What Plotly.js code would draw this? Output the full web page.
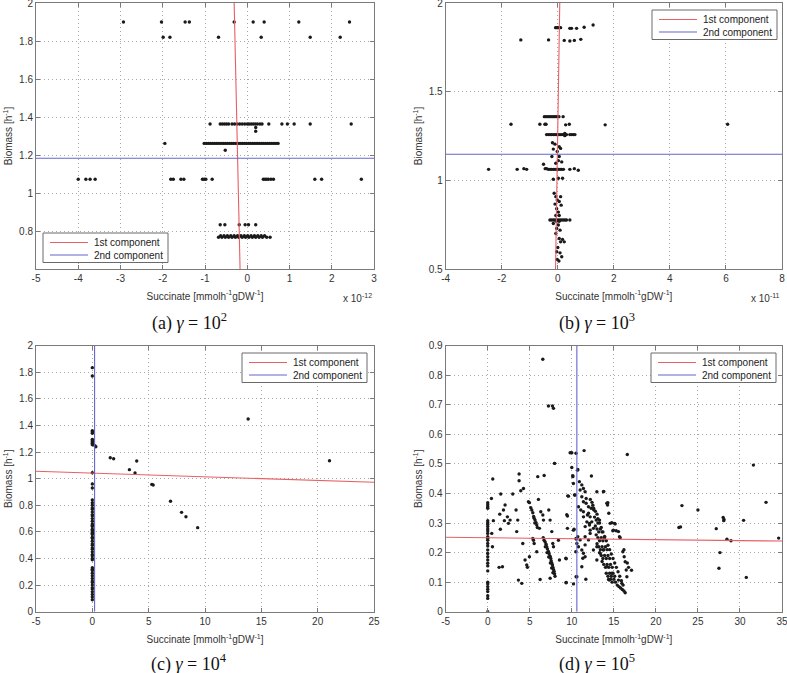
<!DOCTYPE html>
<html>
<head>
<meta charset="utf-8">
<script src="https://cdn.plot.ly/plotly-3.0.1.min.js"></script>
<style>html,body{margin:0;padding:0;background:#fff;}#chart{width:787px;height:673px;}</style>
</head>
<body>
<div id="chart"></div>
<script>
// ---------- DATA ----------
// (a) gamma = 10^2, x in units of 1e-12
const pointsA = [
  [-2.93,1.9],[-2.03,1.9],[-1.47,1.9],[-1.37,1.9],[-0.31,1.9],[0.14,1.9],[0.40,1.9],[1.22,1.9],[2.42,1.9],
  [-1.99,1.82],[-1.83,1.82],[-0.68,1.82],[0.33,1.82],[1.49,1.82],[2.20,1.82],
  [-0.88,1.363],[-0.64,1.363],[-0.59,1.363],[-0.54,1.363],[-0.49,1.363],[-0.44,1.363],[-0.36,1.363],[-0.30,1.363],[-0.24,1.363],[-0.18,1.363],[-0.12,1.363],[-0.06,1.363],[0.0,1.363],[0.04,1.363],[0.09,1.363],[0.14,1.363],[0.19,1.363],[0.24,1.363],[0.30,1.363],[0.35,1.363],[0.51,1.363],[0.82,1.363],[0.95,1.363],[1.11,1.363],[1.49,1.363],[2.46,1.363],
  [0.2,1.345],[0.2,1.325],[-0.52,1.225],[-1.95,1.261],
  [-1.02,1.261],[-0.97,1.261],[-0.92,1.261],[-0.87,1.261],[-0.82,1.261],[-0.77,1.261],[-0.72,1.261],[-0.67,1.261],[-0.62,1.261],[-0.57,1.261],[-0.52,1.261],[-0.47,1.261],[-0.42,1.261],[-0.37,1.261],[-0.32,1.261],[-0.27,1.261],[-0.22,1.261],[-0.17,1.261],[-0.12,1.261],[-0.07,1.261],[-0.02,1.261],[0.03,1.261],[0.08,1.261],[0.13,1.261],[0.18,1.261],[0.23,1.261],[0.28,1.261],[0.33,1.261],[0.38,1.261],[0.43,1.261],[0.48,1.261],[0.53,1.261],[0.58,1.261],[0.63,1.261],[0.68,1.261],[0.73,1.261],
  [-4.0,1.072],[-3.82,1.072],[-3.72,1.072],[-3.6,1.072],[-1.81,1.072],[-1.75,1.072],[-1.57,1.072],[-1.5,1.072],[-1.06,1.072],[-1.02,1.072],[-0.98,1.072],[-0.83,1.072],[0.38,1.072],[0.42,1.072],[0.46,1.072],[0.50,1.072],[0.56,1.072],[0.62,1.072],[1.6,1.072],[1.76,1.072],[2.70,1.072],
  [-0.64,0.833],[-0.53,0.833],[-0.19,0.833],[-0.05,0.833],[0.03,0.833],[0.2,0.833],
  [-0.68,0.767],[-0.63,0.775],[-0.6,0.767],[-0.55,0.775],[-0.52,0.767],[-0.47,0.775],[-0.44,0.767],[-0.39,0.775],[-0.36,0.767],[-0.31,0.775],[-0.28,0.767],[-0.23,0.775],[-0.2,0.767],[-0.15,0.775],[-0.12,0.767],[-0.07,0.775],[-0.04,0.767],[0.01,0.775],[0.04,0.767],[0.09,0.775],[0.12,0.767],[0.17,0.775],[0.2,0.767],[0.25,0.775],[0.28,0.767],[0.33,0.775],[0.36,0.767],[0.41,0.775],[0.46,0.767],[0.54,0.767]
];
const pc1AX = [-0.31, -0.17], pc1AY = [2, 0.6];
const pc2AX = [-5, 3], pc2AY = [1.183, 1.183];

// (b) gamma = 10^3, x in units of 1e-11
const pointsB = [
  [-0.08,1.861],[-0.04,1.861],[0.0,1.861],[0.05,1.861],[0.1,1.861],[0.43,1.857],[0.49,1.857],[0.67,1.857],[0.94,1.863],[1.26,1.876],
  [-1.32,1.792],[-0.33,1.792],[0.23,1.789],[0.43,1.786],[0.59,1.789],[0.82,1.795],
  [-0.48,1.359],[-0.42,1.359],[-0.36,1.359],[-0.3,1.359],[-0.24,1.359],[-0.18,1.359],[-0.12,1.359],[-0.06,1.359],[0.0,1.359],[0.04,1.359],[0.19,1.359],
  [-1.67,1.316],[-0.64,1.316],[-0.46,1.316],[-0.42,1.316],[0.28,1.313],[0.41,1.316],[1.69,1.313],[6.06,1.316],
  [-0.4,1.258],[-0.34,1.258],[-0.28,1.258],[-0.22,1.258],[-0.16,1.258],[-0.1,1.258],[-0.04,1.258],[0.02,1.258],[0.08,1.258],[0.14,1.258],[0.2,1.258],[0.25,1.258],[0.31,1.258],[0.25,1.252],[0.25,1.265],[0.43,1.258],[0.49,1.258],[0.55,1.258],[0.61,1.258],
  [-0.19,1.212],[-0.1,1.204],[0.05,1.189],[0.1,1.18],[-0.16,1.176],[-0.02,1.163],[-0.21,1.134],[0.05,1.134],[0.02,1.111],[0.14,1.104],[-0.07,1.096],[-0.51,1.091],
  [-2.47,1.062],[-1.45,1.062],[-1.21,1.066],[-1.11,1.062],[-0.45,1.066],[-0.4,1.066],[-0.34,1.062],[-0.28,1.062],[-0.22,1.062],[-0.16,1.062],[-0.1,1.062],[-0.04,1.062],[0.02,1.062],[0.08,1.062],[0.14,1.062],[0.2,1.062],[0.43,1.062],[0.59,1.066],[0.73,1.057],
  [-0.16,1.006],[0.02,1.012],[0.17,1.012],
  [-0.13,0.927],[-0.07,0.908],[0.1,0.908],[-0.02,0.889],[0.05,0.881],[-0.1,0.866],[0.12,0.86],[-0.04,0.84],[0.02,0.821],[-0.07,0.802],[0.05,0.802],
  [-0.28,0.776],[-0.22,0.776],[-0.16,0.776],[-0.1,0.776],[-0.04,0.776],[0.02,0.776],[0.08,0.776],[0.14,0.776],[0.2,0.776],[0.26,0.776],[0.31,0.776],[0.43,0.776],[-0.05,0.769],[0.05,0.769],
  [-0.16,0.757],[0.02,0.748],[-0.04,0.729],[0.08,0.719],[-0.07,0.7],[0.05,0.672],[0.17,0.667],[0.1,0.653],[0.23,0.653],[0.0,0.621],[-0.04,0.597],[0.08,0.591],[0.14,0.569],[-0.02,0.554],[0.04,0.545]
];
const pc1BX = [0.07, -0.08], pc1BY = [2, 0.5];
const pc2BX = [-4, 8], pc2BY = [1.147, 1.147];

// (c) gamma = 10^4
const pointsC = [
  [0.0,1.835],[0.0,1.772],
  [0.0,1.361],[0.0,1.351],[0.0,1.341],[0.0,1.296],[0.0,1.286],[0.0,1.276],[0.0,1.266],[0.0,1.256],[0.31,1.24],[0.23,1.248],
  [0.0,1.045],[0.0,0.96],[0.0,0.93],
  [0.0,0.84],[0.0,0.82],[0.0,0.80],[0.0,0.78],[0.0,0.77],[0.0,0.75],[0.0,0.73],[0.0,0.72],[0.0,0.70],[0.0,0.68],[0.0,0.66],[0.0,0.65],[0.0,0.64],[0.0,0.62],[0.0,0.61],[0.0,0.60],[0.0,0.59],[0.0,0.58],[0.0,0.56],[0.0,0.55],[0.0,0.53],[0.0,0.51],[0.0,0.50],[0.0,0.48],[0.0,0.47],[0.0,0.45],[0.0,0.43],[0.0,0.42],[0.0,0.40],[0.0,0.39],[0.0,0.33],[0.0,0.32],[0.0,0.31],[0.0,0.29],[0.0,0.27],[0.0,0.25],[0.0,0.23],[0.0,0.22],[0.0,0.20],[0.0,0.18],[0.0,0.17],[0.0,0.15],[0.0,0.13],[0.0,0.11],[0.0,0.09],
  [1.59,1.158],[1.89,1.15],[3.29,1.068],[3.79,1.043],[3.94,1.133],[5.28,0.957],[5.4,0.953],[6.94,0.83],[7.92,0.747],[8.31,0.714],[9.35,0.632],[13.83,1.449],[21.05,1.135]
];
const pc1CX = [-5, 25], pc1CY = [1.056, 0.973];
const pc2CX = [0.2, 0.2], pc2CY = [0, 2];

// (d) gamma = 10^5
const pointsD = [
  [0,0.369],[0,0.362],[0,0.355],[0,0.35],[0,0.308],[0,0.301],[0,0.295],[0,0.288],[0,0.28],[0,0.273],[0,0.265],[0,0.254],[0,0.248],[0,0.242],[0,0.231],[0,0.222],[0,0.209],[0,0.197],[0,0.186],[0,0.175],[0,0.164],[0,0.155],[0,0.138],[0,0.1],[0,0.094],[0,0.085],[0,0.076],[0,0.068],[0,0.054],[0,0.045],[0,0.0],
  [0.44,0.383],[0.6,0.449],[0.67,0.308],[0.56,0.22],[0.48,0.265],[1.55,0.398],[1.43,0.33],[1.5,0.279],[1.35,0.15],[1.75,0.152],[1.87,0.344],[2.06,0.361],[2.34,0.321],[2.46,0.299],[1.98,0.308],[2.66,0.31],[2.98,0.398],[3.37,0.344],[3.45,0.271],[3.57,0.31],[3.65,0.107],[3.73,0.443],[3.73,0.466],[3.93,0.409],[4.05,0.096],[4.25,0.417],[4.17,0.231],[4.44,0.175],[4.64,0.158],[4.72,0.15],[4.96,0.186],
  [4.84,0.372],[4.96,0.369],[5.12,0.352],[5.24,0.344],[5.36,0.335],[5.52,0.316],[5.63,0.31],[5.75,0.301],[5.83,0.293],[5.46,0.322],[5.6,0.3],[5.9,0.285],[5.36,0.248],[5.44,0.242],[5.52,0.231],[5.83,0.203],[5.95,0.457],[6.03,0.38],[6.15,0.282],[6.23,0.109],[6.31,0.338],[6.55,0.327],[6.63,0.31],[6.55,0.854],[6.71,0.461],
  [6.6,0.25],[6.7,0.242],[6.83,0.236],[6.94,0.228],[7.02,0.22],[7.1,0.212],[7.22,0.204],[7.3,0.196],[7.42,0.188],[7.5,0.18],[7.55,0.172],[7.62,0.165],[7.7,0.158],[7.75,0.15],[7.82,0.143],[7.9,0.136],[7.95,0.128],[8.0,0.12],[6.85,0.22],[7.05,0.2],[7.25,0.185],[7.45,0.165],[7.6,0.148],[7.75,0.132],
  [7.22,0.696],[7.7,0.696],[7.82,0.688],[7.42,0.113],[7.26,0.344],[7.42,0.31],[7.62,0.271],[7.74,0.231],[7.94,0.502],[7.82,0.22],[8.41,0.242],[8.53,0.175],[9.33,0.179],[9.33,0.099],[9.4,0.328],[9.52,0.392],
  [9.8,0.538],[10.0,0.538],[10.5,0.536],[11.46,0.545],[16.6,0.532],[10.0,0.488],[10.12,0.46],[10.2,0.094],[10.32,0.395],[10.2,0.276],[10.48,0.203],[10.6,0.118],[10.71,0.481],[10.52,0.246],[10.71,0.254],
  [9.48,0.324],[9.48,0.282],[9.29,0.181],[9.32,0.098],[10.27,0.279],[10.51,0.248],[10.6,0.231],[10.79,0.22],[10.99,0.243],[11.19,0.209],[11.38,0.198],[11.58,0.226],[11.31,0.181],[11.58,0.186],[11.19,0.152],[11.67,0.11],[10.51,0.118],[10.67,0.479],[10.12,0.457],[10.19,0.434],[9.6,0.391],[10.39,0.395],[12.33,0.459],[12.98,0.406],[13.76,0.406],[14.29,0.369],[14.4,0.333],[14.76,0.301],[14.95,0.276],[15.15,0.297],[15.55,0.271],[15.75,0.25],
  [10.9,0.44],[11.19,0.429],[11.38,0.417],[11.58,0.406],[10.99,0.412],[11.19,0.389],[11.38,0.372],[10.79,0.355],[11.07,0.344],[11.38,0.338],[11.7,0.367],[11.98,0.355],[11.86,0.327],[12.18,0.321],[11.79,0.304],[12.1,0.293],[12.38,0.304],[12.57,0.282],[12.18,0.265],[11.58,0.254],[11.98,0.243],[11.39,0.321],[11.59,0.288],[11.71,0.383],[11.99,0.333],[12.1,0.299],[12.18,0.276],
  [12.2,0.38],[12.4,0.37],[12.5,0.36],[12.3,0.35],[12.6,0.345],
  [12.6,0.35],[12.8,0.34],[13.0,0.33],[12.7,0.32],[12.9,0.31],[13.1,0.3],[13.3,0.31],[12.8,0.29],[13.0,0.28],[13.2,0.27],[13.4,0.28],[13.6,0.27],[12.9,0.26],[13.1,0.25],[13.3,0.24],[13.5,0.25],[13.7,0.24],[13.9,0.25],[13.0,0.23],[13.2,0.22],[13.4,0.21],[13.6,0.22],[13.8,0.21],[14.0,0.22],[14.2,0.21],[13.3,0.2],[13.5,0.19],[13.7,0.18],[13.9,0.19],[14.1,0.18],[14.3,0.19],[14.5,0.18],[13.6,0.17],[13.8,0.16],[14.0,0.15],[14.2,0.16],[14.4,0.15],[14.6,0.16],[14.8,0.15],[14.1,0.13],[14.3,0.12],[14.5,0.13],[14.7,0.12],[14.9,0.13],[15.1,0.12],[14.6,0.11],[14.8,0.1],[15.0,0.11],[15.2,0.1],[15.4,0.09],[15.6,0.085],[15.8,0.08],[16.0,0.075],[16.2,0.07],[16.35,0.064],
  [13.1,0.315],[13.3,0.3],[13.5,0.285],[13.7,0.27],[13.9,0.255],[14.1,0.24],[14.3,0.225],[14.5,0.21],[14.7,0.195],[14.9,0.18],[15.1,0.165],[15.3,0.15],[15.5,0.135],[15.7,0.12],[15.9,0.105],[16.1,0.09],
  [12.98,0.175],[14.17,0.152],[14.76,0.13],[14.48,0.107],[15.55,0.107],[15.95,0.096],[12.57,0.209],[12.98,0.22],[13.37,0.198],[13.76,0.209],[13.8,0.407],[14.17,0.367],[14.25,0.361],[14.37,0.109],[14.56,0.299],[14.88,0.274],[15.08,0.299],[15.28,0.274],[15.67,0.254],
  [16.07,0.203],[16.23,0.186],[16.35,0.169],[16.47,0.141],[16.55,0.118],[16.2,0.21],[16.6,0.165],[16.75,0.15],[17.1,0.14],[7.97,0.502],
  [22.74,0.285],[22.93,0.287],[23.1,0.359],[25.0,0.344],[27.18,0.281],[27.5,0.147],[27.62,0.2],[28.0,0.319],[28.1,0.312],[28.07,0.308],[28.45,0.245],[28.93,0.24],[30.43,0.309],[30.75,0.116],[31.6,0.496],[33.1,0.37],[34.6,0.249]
];
const pc1DX = [-5, 35], pc1DY = [0.252, 0.239];
const pc2DX = [10.6, 10.6], pc2DY = [0, 0.9];

// tick labels
const xTicksA = [-5,-4,-3,-2,-1,0,1,2,3];
const xTicksB = [-4,-2,0,2,4,6,8];
const xTicksC = [-5,0,5,10,15,20,25];
const xTicksD = [-5,0,5,10,15,20,25,30,35];
const yTicksA = [0.8,1,1.2,1.4,1.6,1.8,2];
const yTicksB = [0.5,1,1.5,2];
const yTicksC = [0,0.2,0.4,0.6,0.8,1,1.2,1.4,1.6,1.8,2];
const yTicksD = [0,0.1,0.2,0.3,0.4,0.5,0.6,0.7,0.8,0.9];
const captions = ['(a) <i>γ</i> = 10<sup>2</sup>','(b) <i>γ</i> = 10<sup>3</sup>','(c) <i>γ</i> = 10<sup>4</sup>','(d) <i>γ</i> = 10<sup>5</sup>'];
const seriesNames = ['1st component','2nd component'];
const xTitle = 'Succinate [mmolh<sup>-1</sup>gDW<sup>-1</sup>]';
const yTitle = 'Biomass [h<sup>-1</sup>]';

// ---------- BUILD ----------
const W = 787, H = 673;
const FONT = 'Liberation Sans, Arial, sans-serif';
const RED = 'rgb(232,95,100)', BLUE = 'rgb(100,100,205)';
const COLORS = [RED, BLUE];

function scatterTrace(pts, xa, ya) {
  return {type:'scatter', mode:'markers', x: pts.map(p=>p[0]), y: pts.map(p=>p[1]),
    xaxis: xa, yaxis: ya, showlegend:false, hoverinfo:'skip',
    marker:{size:3.4, color:'#1a1a1a'}};
}
function lineTrace(x, y, xa, ya, color, name) {
  return {type:'scatter', mode:'lines', x:x, y:y, xaxis:xa, yaxis:ya, name:name, showlegend:false,
    line:{color:color, width:1.1}, hoverinfo:'skip'};
}
const traces = [
  scatterTrace(pointsA,'x','y'),
  lineTrace(pc1AX,pc1AY,'x','y',RED,seriesNames[0]),
  lineTrace(pc2AX,pc2AY,'x','y',BLUE,seriesNames[1]),
  scatterTrace(pointsB,'x2','y2'),
  lineTrace(pc1BX,pc1BY,'x2','y2',RED,seriesNames[0]),
  lineTrace(pc2BX,pc2BY,'x2','y2',BLUE,seriesNames[1]),
  scatterTrace(pointsC,'x3','y3'),
  lineTrace(pc1CX,pc1CY,'x3','y3',RED,seriesNames[0]),
  lineTrace(pc2CX,pc2CY,'x3','y3',BLUE,seriesNames[1]),
  scatterTrace(pointsD,'x4','y4'),
  lineTrace(pc1DX,pc1DY,'x4','y4',RED,seriesNames[0]),
  lineTrace(pc2DX,pc2DY,'x4','y4',BLUE,seriesNames[1])
];

function axisBase(range, ticks, domain, anchor, title, standoff) {
  return {
    range: range, domain: domain, anchor: anchor,
    tickmode:'array', tickvals: ticks, ticktext: ticks.map(v => String(v)),
    showline:true, linecolor:'#7a7a7a', linewidth:1, mirror:'ticks',
    ticks:'inside', ticklen:4, tickcolor:'#7a7a7a',
    showgrid:true, gridcolor:'#a8a8a8', griddash:'1px,3px', gridwidth:1,
    zeroline:false, automargin:false, fixedrange:true, ticklabeloverflow:'allow',
    tickfont:{family:FONT, size:10, color:'#333'},
    title:{text:title, font:{family:FONT, size:10, color:'#333'}, standoff: standoff}
  };
}
const xL = [36/W, 374/W], xR = [445.7/W, 782/W];
const yT = [1-269/H, 1-3/H], yB = [1-611.7/H, 1-345.7/H];

// boxed legend (like MATLAB's) built from shapes + text, positioned in pixels
const shapes = [], annotations = [];
function addLegend(x0, y0) {
  const w = 125, h = 29.5;
  shapes.push({type:'rect', xref:'paper', yref:'paper', x0:x0/W, x1:(x0+w)/W, y0:1-(y0+h)/H, y1:1-y0/H,
    line:{color:'#6a6a6a', width:1}, fillcolor:'#fff', layer:'above'});
  seriesNames.forEach((name, i) => {
    const yc = y0 + 9.5 + i*12.5;
    shapes.push({type:'line', xref:'paper', yref:'paper', x0:(x0+7)/W, x1:(x0+45)/W, y0:1-yc/H, y1:1-yc/H,
      line:{color:COLORS[i], width:1.1}, layer:'above'});
    annotations.push({text:name, x:(x0+49)/W, y:1-yc/H, xref:'paper', yref:'paper', showarrow:false,
      xanchor:'left', yanchor:'middle', font:{family:FONT, size:10, color:'#222'}});
  });
}
addLegend(43, 233);
addLegend(652, 10);
addLegend(242, 353);
addLegend(651, 353);

function cap(text, xpx, ypx) {
  return {text:text, x:xpx/W, y:1-ypx/H, xref:'paper', yref:'paper', showarrow:false,
    font:{family:'Liberation Serif, Times New Roman, serif', size:18, color:'#111'}, xanchor:'center', yanchor:'middle'};
}
function expo(text, xpx, ypx) {
  return {text:text, x:xpx/W, y:1-ypx/H, xref:'paper', yref:'paper', showarrow:false,
    font:{family:FONT, size:10, color:'#333'}, xanchor:'right', yanchor:'middle'};
}
annotations.push(
  expo('x 10<sup>-12</sup>', 374, 298),
  expo('x 10<sup>-11</sup>', 782, 298),
  cap(captions[0], 189, 322),
  cap(captions[1], 597, 322),
  cap(captions[2], 189, 663),
  cap(captions[3], 597, 663)
);

const layout = {
  width:W, height:H, margin:{l:0,r:0,t:0,b:0}, paper_bgcolor:'#fff', plot_bgcolor:'#fff',
  showlegend:false,
  xaxis: axisBase([-5,3], xTicksA, xL, 'y', xTitle, 9),
  yaxis: axisBase([0.6,2], yTicksA, yT, 'x', yTitle, 4),
  xaxis2: axisBase([-4,8], xTicksB, xR, 'y2', xTitle, 9),
  yaxis2: axisBase([0.5,2], yTicksB, yT, 'x2', yTitle, 4),
  xaxis3: axisBase([-5,25], xTicksC, xL, 'y3', xTitle, 10),
  yaxis3: axisBase([0,2], yTicksC, yB, 'x3', yTitle, 4),
  xaxis4: axisBase([-5,35], xTicksD, xR, 'y4', xTitle, 10),
  yaxis4: axisBase([0,0.9], yTicksD, yB, 'x4', yTitle, 4),
  shapes: shapes,
  annotations: annotations
};
Plotly.newPlot('chart', traces, layout, {displayModeBar:false, staticPlot:true});
</script>
</body>
</html>
